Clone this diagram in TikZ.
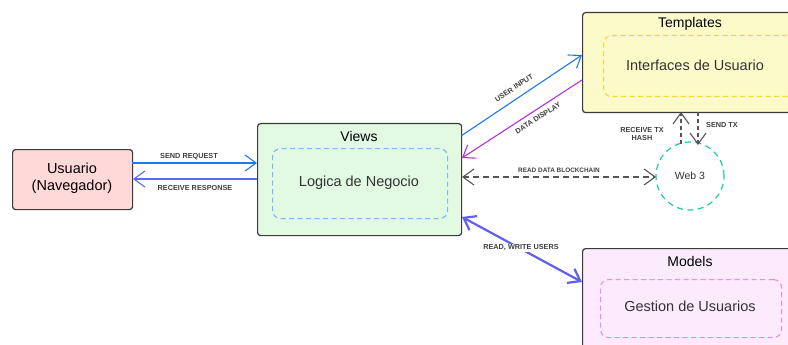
\documentclass[tikz,border=0pt]{standalone}
\usepackage{fontspec}
\setmainfont{Liberation Sans}
\usetikzlibrary{arrows.meta}
\definecolor{edge}{HTML}{3A3A3A}
\definecolor{pinkfill}{HTML}{FFD8D8}
\definecolor{greenfill}{HTML}{E2FAE2}
\definecolor{yellowfill}{HTML}{FCFAC8}
\definecolor{violetfill}{HTML}{FBEBFD}
\definecolor{innerblue}{HTML}{80B4F8}
\definecolor{inneryellow}{HTML}{F8D838}
\definecolor{innerpink}{HTML}{F888DC}
\definecolor{reqblue}{HTML}{2277E8}
\definecolor{respblue}{HTML}{5A6AF0}
\definecolor{dispviolet}{HTML}{B030E8}
\definecolor{rwindigo}{HTML}{5F5FF0}
\definecolor{teal}{HTML}{20C8A8}
\definecolor{grayline}{HTML}{555555}
\tikzset{
  box/.style={draw=edge, line width=1.2pt, rounded corners=3pt, anchor=north west},
  inner/.style={dashed, dash pattern=on 5pt off 3.5pt, line width=1.1pt, rounded corners=8pt, anchor=north west},
  title/.style={font=\fontsize{14}{16}\selectfont, text=black},
  body/.style={font=\fontsize{14.5}{17}\selectfont, text=black!80},
  lbl/.style={font=\fontsize{7.3}{8.3}\selectfont\bfseries, text=black!75, inner sep=1pt},
  smalllbl/.style={lbl, font=\fontsize{6.4}{7.4}\selectfont\bfseries},
  tip/.style={-{Straight Barb[length=11pt,width=16pt]}},
  tips/.style={{Straight Barb[length=11pt,width=16pt]}-{Straight Barb[length=11pt,width=16pt]}},
  conn/.style={line width=1.1pt},
}
\begin{document}
\begin{tikzpicture}[x=1pt,y=-1pt]
\useasboundingbox (0,0) rectangle (788,345);
\fill[white] (0,0) rectangle (788,345);

% Usuario
\node[box, fill=pinkfill, minimum width=120pt, minimum height=60pt] (usr) at (12,149) {};
\node[body, text=black, align=center] (usrtxt) at (72,178) {Usuario\\(Navegador)};

% Views
\node[box, fill=greenfill, minimum width=204pt, minimum height=112pt] (views) at (257,123) {};
\node[title] (viewst) at (359,136) {Views};
\node[inner, draw=innerblue, minimum width=175pt, minimum height=70pt] (viewsin) at (272,148) {};
\node[body] (logic) at (359,183) {Logica de Negocio};

% Templates
\node[box, fill=yellowfill, minimum width=230pt, minimum height=100pt] (tpl) at (582,12) {};
\node[title] (tplt) at (690,24) {Templates};
\node[inner, draw=inneryellow, minimum width=200pt, minimum height=61pt] (tplin) at (603,35) {};
\node[body] (ui) at (695,65) {Interfaces de Usuario};

% Models
\node[box, fill=violetfill, minimum width=230pt, minimum height=120pt] (mdl) at (582,248) {};
\node[title] (mdlt) at (690,261) {Models};
\node[inner, draw=innerpink, minimum width=181pt, minimum height=58pt] (mdlin) at (600,279) {};
\node[body] (users) at (690,306) {Gestion de Usuarios};

% Web 3
\node[draw=teal, dashed, dash pattern=on 6pt off 4.5pt, line width=1.2pt, circle, minimum size=68pt,
      font=\fontsize{10.5}{12}\selectfont, text=black!80] (web) at (690,176) {Web 3};

% Anchor points on box sides
\coordinate (u1) at (132,163);
\coordinate (u2) at (133,179);
\coordinate (v1) at (257,163);
\coordinate (v2) at (257,179);
\coordinate (vr1) at (461,136);
\coordinate (vr2) at (462,158);
\coordinate (vr3) at (462,177);
\coordinate (vr4) at (462,217);
\coordinate (t1) at (582,55);
\coordinate (t2) at (582,80);
\coordinate (tb1) at (681,112);
\coordinate (tb2) at (698,112);
\coordinate (m1) at (582,282);
\coordinate (w1) at (681,144);
\coordinate (w2) at (698,145);
\coordinate (wl) at (656,177);

% Browser <-> Views
\draw[conn, tip, draw=reqblue] (u1) -- (v1);
\draw[conn, tip, draw=respblue] (v2) -- (u2);
\node[lbl] (sendreq) at (189,157) {SEND REQUEST};
\node[lbl] (recvresp) at (195,188) {RECEIVE RESPONSE};

% Views <-> Templates
\draw[conn, tip, draw=reqblue] (vr1) -- (t1);
\draw[conn, tip, draw=dispviolet] (t2) -- (vr2);
\node[lbl, rotate=33.8] (userin) at (514,88) {USER INPUT};
\node[lbl, rotate=32.8] (datadisp) at (538,118) {DATA DISPLAY};

% Views <-> Web 3
\draw[conn, tips, draw=grayline, dashed, dash pattern=on 6pt off 4pt] (vr3) -- (wl);
\node[smalllbl] (readbc) at (559,170) {READ DATA BLOCKCHAIN};

% Views <-> Models
\draw[line width=2.2pt, tips, draw=rwindigo] (vr4) -- (m1);
\node[lbl, fill=white, inner sep=0.5pt] (rwlbl) at (521,248) {READ, WRITE USERS};

% Web 3 <-> Templates
\draw[conn, tip, draw=grayline, dashed, dash pattern=on 4pt off 3pt] (w1) -- (tb1);
\draw[conn, tip, draw=grayline, dashed, dash pattern=on 4pt off 3pt] (tb2) -- (w2);
\node[lbl, align=center] (rxlbl) at (642,134) {RECEIVE TX\\HASH};
\node[lbl] (txlbl) at (722,125) {SEND TX};
\end{tikzpicture}
\end{document}
